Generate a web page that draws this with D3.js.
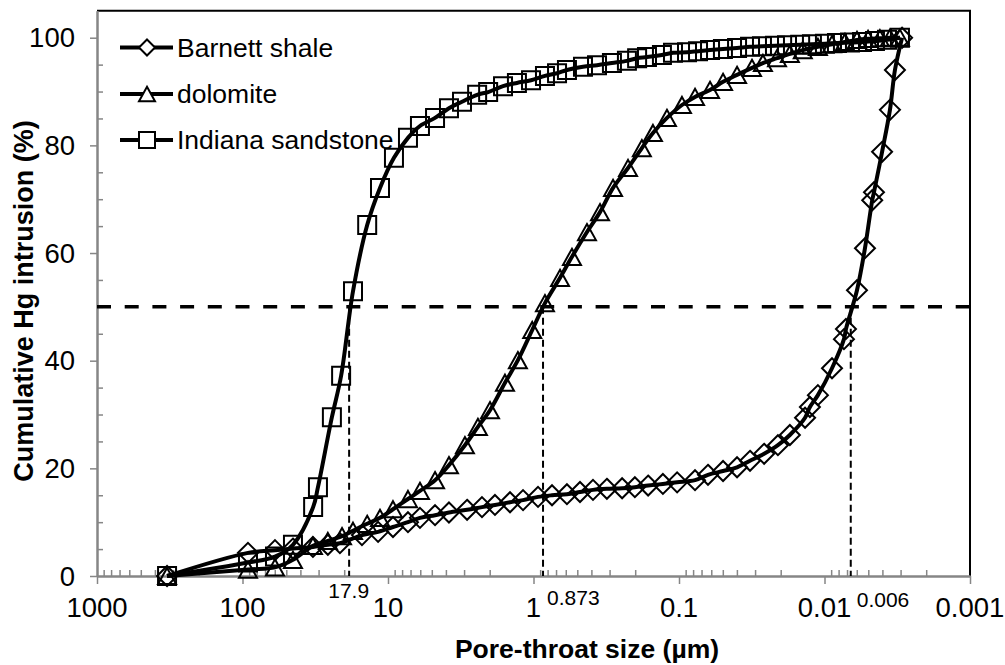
<!DOCTYPE html>
<html><head><meta charset="utf-8">
<script src="https://cdn.jsdelivr.net/npm/d3@7"></script>
<style>
body{margin:0;background:#fff;}
svg{display:block;font-family:"Liberation Sans",Arial,Helvetica,sans-serif;}
</style>
</head><body>
<svg id="chart" width="1005" height="665"></svg>
<script>
// ---------- data ----------
const seriesNames = ["Barnett shale", "dolomite", "Indiana sandstone"];

const poreBarnett = [330, 91.7, 59.8, 45.0, 32.8, 25.9, 21.4, 15.1, 11.7, 9.24, 7.29, 6.03, 4.75, 3.81, 2.86, 2.26, 1.84, 1.45, 1.18, 0.931, 0.746, 0.589, 0.479, 0.390, 0.313, 0.246, 0.201, 0.163, 0.129, 0.103, 0.0776, 0.0632, 0.0498, 0.0399, 0.0325, 0.0260, 0.0209, 0.0173, 0.0136, 0.0126, 0.0111, 0.00888, 0.00735, 0.00712, 0.00598, 0.00527, 0.00470, 0.00457, 0.00402, 0.00355, 0.00328, 0.00293];
const hgBarnett   = [0, 4.3, 4.8, 5.1, 5.4, 5.8, 6.1, 7.6, 8.2, 9.1, 10.0, 10.8, 11.3, 11.8, 12.3, 12.8, 13.2, 13.7, 14.1, 14.7, 15.0, 15.2, 15.6, 16.0, 16.2, 16.3, 16.5, 16.8, 17.1, 17.4, 17.8, 18.8, 19.5, 20.2, 21.4, 22.7, 24.3, 26.2, 29.4, 31.4, 33.6, 38.6, 44.0, 45.9, 53.1, 60.9, 69.8, 71.3, 78.8, 86.6, 94.0, 100];

const poreDolomite = [330, 91.7, 59.8, 45.0, 32.8, 25.9, 20.7, 17.4, 13.9, 11.35, 9.24, 7.29, 6.03, 4.75, 3.81, 2.96, 2.41, 1.99, 1.57, 1.28, 1.02, 0.834, 0.657, 0.544, 0.429, 0.349, 0.284, 0.224, 0.180, 0.151, 0.121, 0.0954, 0.0776, 0.0612, 0.0498, 0.0399, 0.0315, 0.0265, 0.0212, 0.0173, 0.0141, 0.0111, 0.00888, 0.00723, 0.00598, 0.00502, 0.00416, 0.00355, 0.00303];
const hgDolomite   = [0, 1.2, 1.6, 3.0, 5.6, 6.5, 7.4, 8.4, 9.7, 10.8, 12.4, 14.3, 15.8, 17.8, 20.6, 24.3, 27.7, 30.8, 35.9, 40.1, 45.7, 50.7, 55.4, 59.3, 63.9, 67.6, 72.1, 75.8, 79.5, 82.3, 85.1, 87.5, 89.0, 90.3, 91.8, 93.1, 94.4, 95.3, 96.2, 97.0, 97.7, 98.3, 98.8, 99.2, 99.6, 99.8, 99.9, 100, 100];

const poreIndiana = [330, 91.7, 59.8, 45.0, 32.7, 30.3, 24.3, 21.0, 17.4, 13.9, 11.35, 9.10, 7.29, 6.03, 4.75, 3.81, 3.10, 2.44, 2.05, 1.62, 1.30, 1.04, 0.834, 0.689, 0.589, 0.457, 0.366, 0.289, 0.228, 0.194, 0.166, 0.131, 0.110, 0.0881, 0.0740, 0.0612, 0.0499, 0.0399, 0.0325, 0.0269, 0.0219, 0.0181, 0.0147, 0.0122, 0.00993, 0.00821, 0.00668, 0.00552, 0.00450, 0.00372, 0.00303];
const hgIndiana   = [0, 2.5, 3.6, 5.8, 12.8, 16.5, 29.5, 37.2, 52.9, 65.2, 72.1, 77.7, 81.4, 83.6, 85.1, 86.9, 88.1, 89.4, 89.9, 91.0, 91.6, 92.1, 92.9, 93.4, 94.0, 94.6, 94.9, 95.3, 95.7, 96.2, 96.4, 96.8, 97.2, 97.3, 97.5, 97.7, 97.9, 98.1, 98.3, 98.4, 98.5, 98.6, 98.7, 98.8, 98.9, 99.0, 99.1, 99.2, 99.4, 99.6, 100];

const xTickValues = [1000, 100, 10, 1, 0.1, 0.01, 0.001];
const xTickLabels = ["1000", "100", "10", "1", "0.1", "0.01", "0.001"];
const yTickValues = [0, 20, 40, 60, 80, 100];
const referenceLevel = 50;
const d50Pore   = [18.5, 0.86, 0.0066];
const d50Labels = ["17.9", "0.873", "0.006"];

// ---------- layout ----------
const L = 97, R = 970, T = 10.8, B = 576;
const svg = d3.select("#chart");
const x = d3.scaleLog().domain([1000, 0.001]).range([L, R]);
const y = d3.scaleLinear().domain([0, 105]).range([B, T]);
const axisGrey = "#868686";

// plot border (top/right)
svg.append("path").attr("d", `M${L},${T}H${R}V${B}`)
  .attr("fill", "none").attr("stroke", "#000").attr("stroke-width", 2);

// minor ticks
const minorX = [];
for (let k = -3; k <= 2; k++) for (let m = 2; m <= 9; m++) minorX.push(m * Math.pow(10, k));
const minorY = d3.range(5, 105, 5).filter(v => v % 20 !== 0);

function styleAxis(g) {
  g.select(".domain").attr("stroke", axisGrey).attr("stroke-width", 2);
  g.selectAll(".tick line").attr("stroke", axisGrey).attr("stroke-width", 1.5);
  g.selectAll(".tick text").remove();
}

svg.append("g").attr("transform", `translate(0,${B})`)
  .call(d3.axisBottom(x).tickValues(minorX).tickSizeInner(-6).tickSizeOuter(0).tickFormat(""))
  .call(styleAxis);
svg.append("g").attr("transform", `translate(${L},0)`)
  .call(d3.axisLeft(y).tickValues(minorY).tickSizeInner(-6).tickSizeOuter(0).tickFormat(""))
  .call(styleAxis);
svg.append("g").attr("transform", `translate(0,${B})`)
  .call(d3.axisBottom(x).tickValues(xTickValues).tickSizeInner(8).tickSizeOuter(0).tickFormat(""))
  .call(styleAxis);
svg.append("g").attr("transform", `translate(${L},0)`)
  .call(d3.axisLeft(y).tickValues(yTickValues).tickSizeInner(7).tickSizeOuter(0).tickFormat(""))
  .call(styleAxis);

// tick labels
svg.append("g").selectAll("text").data(xTickValues).join("text")
  .attr("x", d => x(d)).attr("y", 617).attr("text-anchor", "middle")
  .attr("font-size", 27.5).attr("fill", "#000")
  .text((d, i) => xTickLabels[i]);
svg.append("g").selectAll("text").data(yTickValues).join("text")
  .attr("x", 75).attr("y", d => y(d)).attr("dy", "0.35em").attr("text-anchor", "end")
  .attr("font-size", 27.5).attr("fill", "#000")
  .text(d => d);

// axis titles
svg.append("text").attr("x", 587).attr("y", 658).attr("text-anchor", "middle")
  .attr("font-size", 26.5).attr("font-weight", "bold").text("Pore-throat size (µm)");
svg.append("text").attr("transform", "translate(33,301) rotate(-90)").attr("text-anchor", "middle")
  .attr("font-size", 27).attr("font-weight", "bold").text("Cumulative Hg intrusion (%)");

// reference lines
svg.append("line").attr("x1", L).attr("x2", R).attr("y1", y(referenceLevel)).attr("y2", y(referenceLevel))
  .attr("stroke", "#000").attr("stroke-width", 3.5).attr("stroke-dasharray", "14,13.7");
svg.append("g").selectAll("line").data(d50Pore).join("line")
  .attr("x1", d => x(d)).attr("x2", d => x(d)).attr("y1", y(referenceLevel)).attr("y2", B)
  .attr("stroke", "#000").attr("stroke-width", 2).attr("stroke-dasharray", "7,4");
const d50LabelLayout = [{dx: 20, anchor: "end", y: 598}, {dx: 4, anchor: "start", y: 605}, {dx: 6, anchor: "start", y: 607}];
svg.append("g").selectAll("text").data(d50Pore).join("text")
  .attr("x", (d, i) => x(d) + d50LabelLayout[i].dx).attr("y", (d, i) => d50LabelLayout[i].y)
  .attr("text-anchor", (d, i) => d50LabelLayout[i].anchor)
  .attr("font-size", 21).text((d, i) => d50Labels[i]);

// markers
function markerPath(type, s) {
  if (type === "diamond") { const h = s / 2; return `M0,${-h}L${h},0L0,${h}L${-h},0Z`; }
  if (type === "triangle") { const w = s / 2, h = s * 0.45; return `M0,${-h}L${w},${h}L${-w},${h}Z`; }
  const h = s / 2; return `M${-h},${-h}H${h}V${h}H${-h}Z`;
}

const series = [
  {name: seriesNames[0], pore: poreBarnett, hg: hgBarnett, marker: "diamond", size: 20},
  {name: seriesNames[1], pore: poreDolomite, hg: hgDolomite, marker: "triangle", size: 18},
  {name: seriesNames[2], pore: poreIndiana, hg: hgIndiana, marker: "square", size: 18}
];

const line = d3.line().x(d => x(d[0])).y(d => y(d[1])).curve(d3.curveCatmullRom.alpha(0.5));

series.forEach(s => {
  const pts = s.pore.map((p, i) => [p, s.hg[i]]);
  const g = svg.append("g");
  g.append("path").datum(pts).attr("d", line)
    .attr("fill", "none").attr("stroke", "#000").attr("stroke-width", 4).attr("stroke-linejoin", "round");
  g.selectAll("path.m").data(pts).join("path").attr("class", "m")
    .attr("transform", d => `translate(${x(d[0])},${y(d[1])})`)
    .attr("d", markerPath(s.marker, s.size))
    .attr("fill", "none").attr("stroke", "#000").attr("stroke-width", 2);
});

// legend
const legendY = [47.5, 94, 140];
const lg = svg.append("g");
series.forEach((s, i) => {
  const cy = legendY[i];
  lg.append("line").attr("x1", 120).attr("x2", 173).attr("y1", cy).attr("y2", cy)
    .attr("stroke", "#000").attr("stroke-width", 4);
  lg.append("path").attr("transform", `translate(147,${cy})`).attr("d", markerPath(s.marker, 16))
    .attr("fill", "#fff").attr("stroke", "#000").attr("stroke-width", 2);
  lg.append("text").attr("x", 177).attr("y", cy + 9.3).attr("font-size", 26.5).text(s.name);
});
</script>
</body></html>
